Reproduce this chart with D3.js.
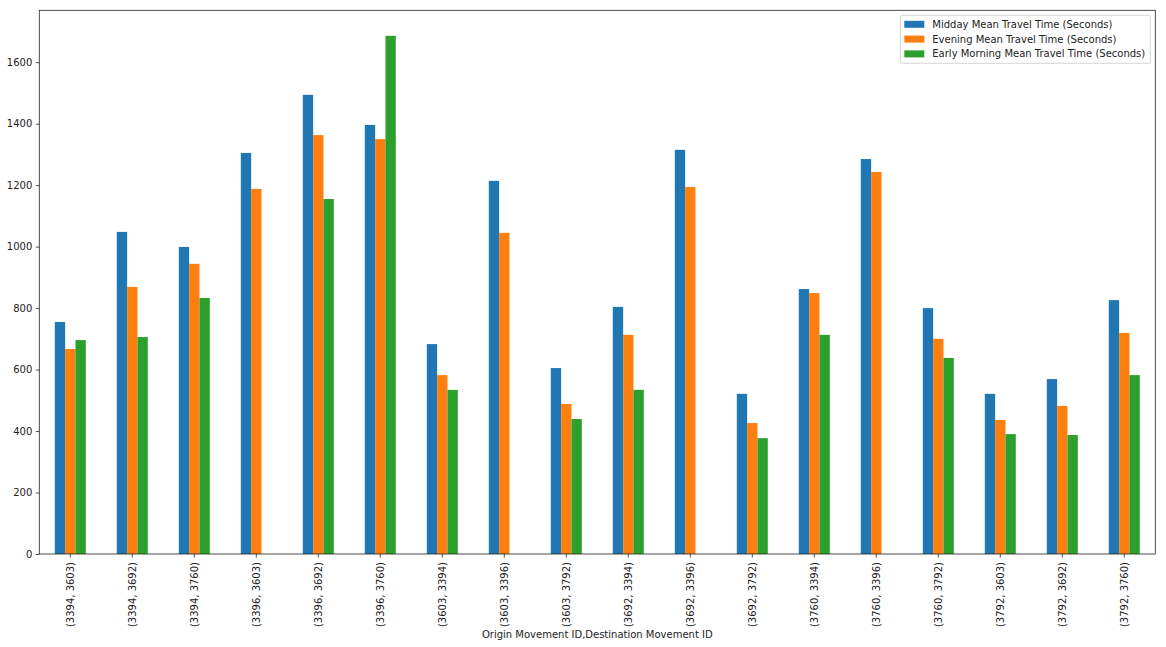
<!DOCTYPE html>
<meta charset="utf-8">
<script src="https://d3js.org/d3.v7.min.js"></script>
<style>
  body { margin: 0; background: #fff; }
  text { font-family: "DejaVu Sans", sans-serif; }
</style>
<body>
<script>

// Categories (origin, destination) pairs
var categories = ["(3394, 3603)", "(3394, 3692)", "(3394, 3760)", "(3396, 3603)", "(3396, 3692)", "(3396, 3760)",
                  "(3603, 3394)", "(3603, 3396)", "(3603, 3792)", "(3692, 3394)", "(3692, 3396)", "(3692, 3792)",
                  "(3760, 3394)", "(3760, 3396)", "(3760, 3792)", "(3792, 3603)", "(3792, 3692)", "(3792, 3760)"];

var midday  = [755, 1048, 999, 1305, 1494, 1396, 683, 1214, 605, 804, 1315, 521, 862, 1285, 800, 521, 569, 826];
var evening = [667, 869, 944, 1188, 1363, 1350, 582, 1045, 488, 713, 1194, 426, 849, 1243, 700, 436, 482, 719];
var early   = [696, 706, 833, null, 1155, 1686, 534, null, 439, 534, null, 377, 713, null, 638, 390, 387, 582];

var seriesNames = ["Midday Mean Travel Time (Seconds)",
                   "Evening Mean Travel Time (Seconds)",
                   "Early Morning Mean Travel Time (Seconds)"];
var colors = ["#1f77b4", "#ff7f0e", "#2ca02c"];
var yTicks = [0, 200, 400, 600, 800, 1000, 1200, 1400, 1600];

var series = [midday, evening, early];

// Set the dimensions of the canvas.
var margin = {top: 10.3, right: 10.7, bottom: 93, left: 39.3},
    width = 1166 - margin.left - margin.right,
    height = 647 - margin.top - margin.bottom;

var svg = d3.select("body").append("svg")
    .attr("width", 1166)
    .attr("height", 647)
  .append("g")
    .attr("transform", "translate(" + margin.left + "," + margin.top + ")");

var x = d3.scaleBand()
  .domain(categories)
  .range([0, width])
  .padding(0);

var x1 = d3.scaleBand()
  .domain([0, 1, 2])
  .range([x.bandwidth() * 0.25, x.bandwidth() * 0.75]);

var y = d3.scaleLinear()
  .domain([0, 1769])
  .range([height, 0]);

// Bars, one group per series
series.forEach(function(vals, si) {
  svg.append("g")
    .selectAll("rect")
    .data(vals.map(function(v, i) { return {cat: categories[i], v: v}; })
              .filter(function(d) { return d.v != null; }))
    .enter().append("rect")
      .attr("x", function(d) { return x(d.cat) + x1(si); })
      .attr("width", x1.bandwidth())
      .attr("y", function(d) { return y(d.v); })
      .attr("height", function(d) { return height - y(d.v); })
      .attr("fill", colors[si]);
});

// y axis
var yAxis = svg.append("g")
  .call(d3.axisLeft(y).tickValues(yTicks).tickFormat(d3.format("d"))
          .tickSize(3.5).tickPadding(3.5).tickSizeOuter(0));
yAxis.select(".domain").remove();
yAxis.selectAll("text").attr("font-size", "10px").attr("fill", "#222");
yAxis.selectAll("line").attr("stroke", "#222").attr("stroke-width", 0.8);

// x axis
var xAxis = svg.append("g")
  .attr("transform", "translate(0," + height + ")")
  .call(d3.axisBottom(x).tickSize(3.5).tickSizeOuter(0));
xAxis.select(".domain").remove();
xAxis.selectAll("line").attr("stroke", "#222").attr("stroke-width", 0.8);
xAxis.selectAll("text")
  .attr("font-size", "10px")
  .attr("fill", "#222")
  .attr("transform", "rotate(-90)")
  .attr("x", -8)
  .attr("y", 0)
  .attr("dy", "0.35em")
  .style("text-anchor", "end");

// frame
svg.append("rect")
  .attr("width", width)
  .attr("height", height)
  .attr("fill", "none")
  .attr("stroke", "#222")
  .attr("stroke-width", 0.8);

// x axis label
svg.append("text")
  .attr("x", width / 2)
  .attr("y", height + 84)
  .attr("text-anchor", "middle")
  .attr("font-size", "10px")
  .attr("fill", "#222")
  .text("Origin Movement ID,Destination Movement ID");

// legend
var legend = svg.append("g")
  .attr("transform", "translate(" + (width - 255) + ",5)");

legend.append("rect")
  .attr("width", 250)
  .attr("height", 48)
  .attr("rx", 2)
  .attr("fill", "#fff")
  .attr("fill-opacity", 0.8)
  .attr("stroke", "#ccc")
  .attr("stroke-width", 0.8);

seriesNames.forEach(function(name, i) {
  legend.append("rect")
    .attr("x", 4)
    .attr("y", 5.5 + i * 14.8)
    .attr("width", 20)
    .attr("height", 7)
    .attr("fill", colors[i]);
  legend.append("text")
    .attr("x", 32)
    .attr("y", 9 + i * 14.8)
    .attr("dy", "0.35em")
    .attr("font-size", "10px")
    .attr("fill", "#222")
    .text(name);
});

</script>
</body>
</html>
